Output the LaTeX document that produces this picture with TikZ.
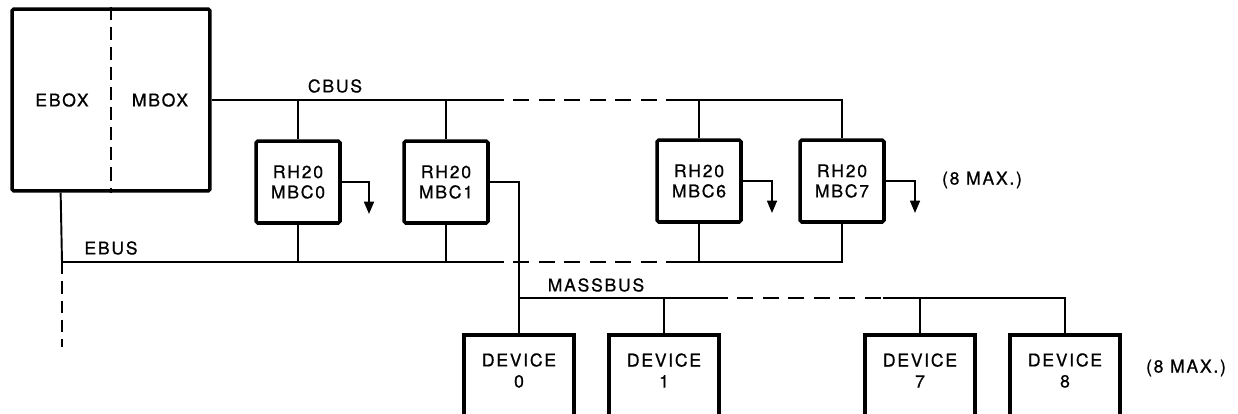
\documentclass[tikz,border=0pt]{standalone}
\usepackage{fontspec}
\setmainfont{TeX Gyre Heros}[LetterSpace=10,FakeBold=0.8]
\usetikzlibrary{arrows.meta,positioning,calc}

\tikzset{
  bigbox/.style={draw, line width=2pt, rounded corners=1pt, minimum width=3.96cm, minimum height=3.64cm},
  mbcbox/.style={draw, line width=2pt, rounded corners=1pt, minimum width=1.68cm, minimum height=1.64cm,
    align=center, inner sep=0pt, font=\fontsize{10}{11.5}\selectfont},
  devbox/.style={draw, line width=2pt, minimum width=2.2cm, minimum height=2cm, anchor=north},
  devtext/.style={align=center, inner sep=0pt, font=\fontsize{10}{12}\selectfont},
  buslabel/.style={inner sep=0pt, font=\fontsize{10}{12}\selectfont},
  bus/.style={line width=1.1pt},
  busgap/.style={line width=1.1pt, dash pattern=on 9pt off 5.5pt},
  outarrow/.style={line width=1.1pt, -{Triangle[length=7pt,width=5.6pt]}}
}

\begin{document}
\begin{tikzpicture}[x=0.02cm,y=-0.02cm]
\useasboundingbox (0,0) rectangle (1238,413);
\clip (0,0) rectangle (1238,413);

% processor
\node[bigbox] (main) at (111,100) {};
\draw[line width=1.1pt, dash pattern=on 7.4pt off 4pt] (main.north) -- (main.south);
\node[buslabel] (ebox) at (62,100) {EBOX};
\node[buslabel] (mbox) at (160,100) {MBOX};

% controllers
\node[mbcbox] (mbc0) at (298,182) {RH20\\MBC0};
\node[mbcbox] (mbc1) at (446,182) {RH20\\MBC1};
\node[mbcbox] (mbc6) at (699,181) {RH20\\MBC6};
\node[mbcbox] (mbc7) at (842,181) {RH20\\MBC7};
\node[buslabel] (max1) at (982,180) {(8 MAX.)};

% devices
\node[devbox] (dev0) at (519,333) {};
\node[devbox] (dev1) at (664,333) {};
\node[devbox] (dev7) at (920,333) {};
\node[devbox] (dev8) at (1065,333) {};
\foreach \d/\t in {dev0/0, dev1/1, dev7/7, dev8/8}
  \node[devtext] (\d txt) at ([yshift=-0.75cm]\d.north) {DEVICE\\\t};
\node[buslabel] (max2) at (1186,368) {(8 MAX.)};

% CBUS
\coordinate (cgap1) at (488,100);
\coordinate (cgap2) at (673,100);
\draw[bus] (main.east) -- (cgap1);
\draw[busgap] (cgap1) -- (cgap2);
\draw[bus] (cgap2) -- (mbc7.north |- cgap2) -- (mbc7.north);
\foreach \m in {mbc0, mbc1, mbc6}
  \draw[bus] (\m.north) -- (\m.north |- cgap1);
\node[buslabel] (cbus) at (335,86) {CBUS};

% EBUS
\coordinate (etap) at ($(main.south west)!0.25!(main.south east)$);
\coordinate (ecorner) at (62,262);
\coordinate (egap1) at (488,262);
\coordinate (egap2) at (673,262);
\coordinate (eend) at (62,347);
\draw[bus] (etap) -- (ecorner) -- (egap1);
\draw[busgap] (egap1) -- (egap2);
\draw[bus] (egap2) -- (mbc7.south |- egap2) -- (mbc7.south);
\foreach \m in {mbc0, mbc1, mbc6}
  \draw[bus] (\m.south) -- (\m.south |- egap1);
\draw[line width=1.1pt, dash pattern=on 7pt off 4pt] (ecorner) -- (eend);
\node[buslabel] (ebus) at (111,248) {EBUS};

% outputs
\coordinate (out0) at (369,214);
\coordinate (out6) at (772,213);
\coordinate (out7) at (915,213);
\draw[outarrow] (mbc0.east) -| (out0);
\draw[outarrow] (mbc6.east) -| (out6);
\draw[outarrow] (mbc7.east) -| (out7);

% MASSBUS
\coordinate (mgap1) at (712,298);
\coordinate (mgap2) at (883,298);
\draw[bus] (mbc1.east) -| (dev0.north);
\draw[bus] (dev0.north |- mgap1) -- (mgap1);
\draw[busgap] (mgap1) -- (mgap2);
\draw[bus] (mgap2) -- (dev8.north |- mgap2) -- (dev8.north);
\foreach \d in {dev1, dev7}
  \draw[bus] (\d.north) -- (\d.north |- mgap1);
\node[buslabel] (massbus) at (596,285) {MASSBUS};
\end{tikzpicture}
\end{document}
